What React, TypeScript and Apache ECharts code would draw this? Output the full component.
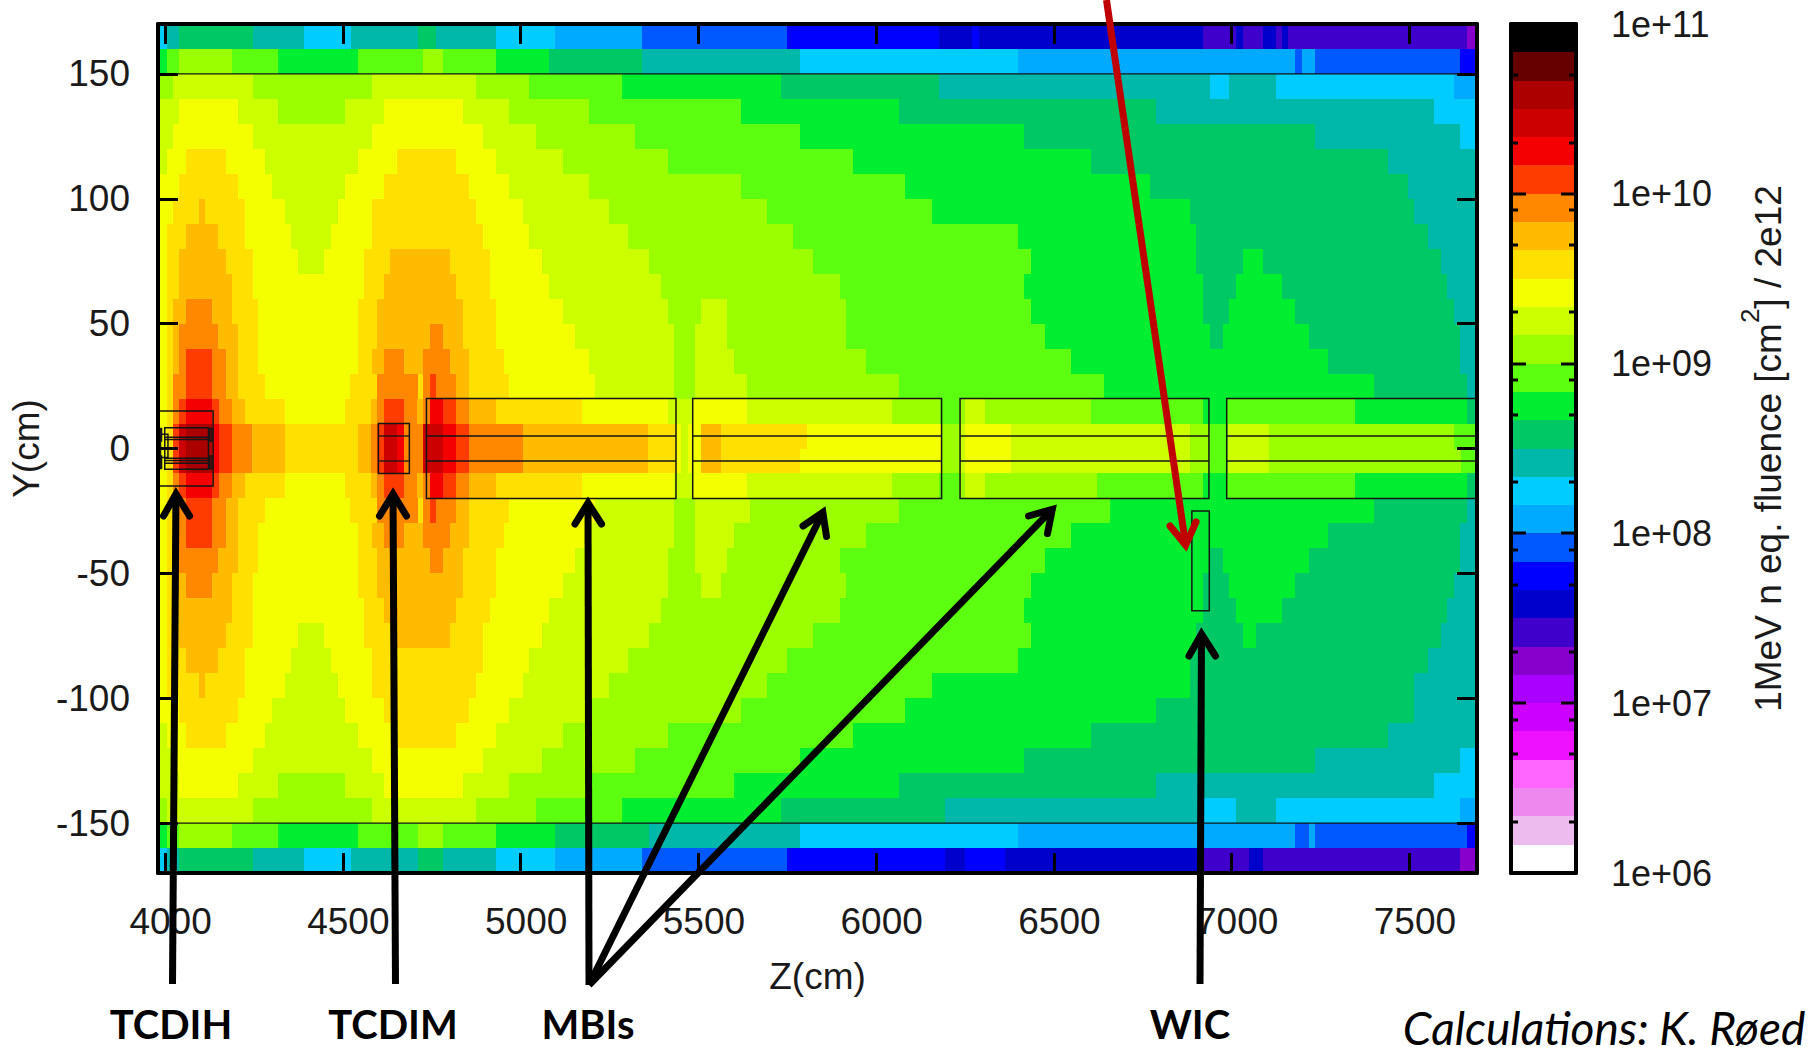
import React, { useEffect, useRef } from "react";
import * as echarts from "echarts";

const zTicks = [4000, 4500, 5000, 5500, 6000, 6500, 7000, 7500];
const yTicks = [-150, -100, -50, 0, 50, 100, 150];
const zRange = [3980, 7690];
const yRange = [-170, 170];

// fluence bands, from the lowest (white) to the highest (black)
const bandColors = [
  "#FFFFFF", "#EEBBEE", "#EE88EE", "#FF66FF", "#EE11FF", "#CC00FF",
  "#AA00FF", "#8800CC", "#4000CC", "#0000CC", "#0000FF", "#0058FF",
  "#00AAFF", "#00CCFF", "#00B8AA", "#00C864", "#00EE30", "#5CFF10",
  "#9CFF00", "#CCFF00", "#F4FF00", "#FFE000", "#FFBB00", "#FF8800",
  "#FF3C00", "#F50000", "#CC0000", "#AA0000", "#660000", "#000000",
];
const bandEdges = [
  1e6, 1.468e6, 2.154e6, 3.162e6, 4.642e6, 6.813e6,
  1e7, 1.468e7, 2.154e7, 3.162e7, 4.642e7, 6.813e7,
  1e8, 1.468e8, 2.154e8, 3.162e8, 4.642e8, 6.813e8,
  1e9, 1.468e9, 2.154e9, 3.162e9, 4.642e9, 6.813e9,
  1e10, 1.468e10, 2.154e10, 3.162e10, 4.642e10, 6.813e10, 1e11,
];
const barMinorTicks = [
  2e6, 5e6, 8e6, 2e7, 5e7, 8e7, 2e8, 5e8, 8e8, 2e9, 5e9, 8e9, 2e10, 5e10, 8e10,
];
const barMajorTicks = [1e7, 1e8, 1e9, 1e10];

// y edges of the scoring rows (cm)
const rowTops = [
  170, 160, 150, 140, 130, 120, 110, 100, 90, 80, 70, 60, 50, 40, 30, 20, 10,
  0, -10, -20, -30, -40, -50, -60, -70, -80, -90, -100, -110, -120, -130, -140, -150, -160,
];

// each row: band, z where the band ends (cm), band, z where it ends, ...
const rowRuns: number[][] = [
  [13,4004,14,4038,15,4246,14,4392,13,4522,14,4710,15,4763,14,4931,13,5097,12,5340,11,5748,10,6176,9,6269,10,6288,9,6919,8,7012,9,7031,8,7088,9,7125,8,7142,9,7158,8,7662,7,7690],
  [16,4004,17,4038,18,4188,17,4318,16,4543,17,4726,18,4782,17,4931,16,5081,15,5340,14,5786,13,6399,12,7179,11,7198,12,7234,11,7643,10,7690],
  [18,4021,19,4246,18,4581,19,4875,18,5023,17,5285,16,5732,15,6176,14,6938,13,6992,14,7125,13,7625,12,7690],
  [19,4038,20,4206,19,4318,18,4505,19,4617,20,4839,19,4968,18,5193,17,5619,16,6065,15,6787,14,7568,13,7690],
  [19,4021,20,4246,19,4581,20,4894,19,5044,18,5322,17,5786,16,6417,15,7235,14,7643,13,7690],
  [19,4004,20,4058,21,4172,20,4280,19,4543,20,4651,21,4819,20,4931,19,5119,18,5415,17,5935,16,6604,15,7440,14,7690],
  [20,4038,21,4206,20,4302,19,4505,20,4617,21,4856,20,4968,19,5193,18,5619,17,6081,16,6771,15,7495,14,7690],
  [20,4021,21,4096,22,4112,21,4225,20,4338,19,4486,20,4581,21,4875,20,5006,19,5248,18,5693,17,6158,16,6882,15,7514,14,7690],
  [20,4004,21,4058,22,4150,21,4225,20,4355,19,4468,20,4581,21,4894,20,5023,19,5302,18,5766,17,6399,16,6899,15,7552,14,7690],
  [20,4004,21,4038,22,4172,21,4246,20,4375,19,4448,20,4559,21,4633,22,4801,21,4915,20,5060,19,5360,18,5822,17,6436,16,6899,15,7031,16,7088,15,7588,14,7690],
  [20,4004,21,4038,22,4188,21,4246,20,4559,21,4617,22,4819,21,4915,20,5081,19,5394,18,5898,17,6417,16,6919,15,7012,16,7142,15,7607,14,7690],
  [20,4004,21,4021,22,4058,23,4133,22,4188,21,4262,20,4543,21,4597,22,4839,21,4931,20,5119,19,5415,18,5508,19,5581,18,5915,17,6436,16,6919,15,6992,16,7179,15,7625,14,7690],
  [20,4004,21,4021,22,4038,23,4150,22,4206,21,4262,20,4543,21,4597,22,4746,23,4782,22,4839,21,4931,20,5153,19,5431,18,5490,19,5581,18,5915,17,6475,16,6938,15,6975,16,7217,15,7643,14,7690],
  [20,4004,21,4021,22,4038,23,4058,24,4133,23,4172,22,4206,21,4262,20,4543,21,4581,22,4617,23,4672,22,4726,23,4801,22,4856,21,4952,20,5193,19,5431,18,5490,19,5600,18,5971,17,6548,16,7271,15,7643,14,7690],
  [20,4004,21,4021,23,4058,24,4133,23,4172,22,4206,21,4280,20,4521,21,4597,23,4710,21,4726,23,4746,24,4763,23,4819,22,4856,21,4968,20,5210,19,5431,18,5490,19,5637,18,6065,17,6641,16,7400,15,7662,14,7690],
  [20,4004,21,4021,23,4038,24,4059,25,4132,24,4151,23,4188,22,4226,21,4338,20,4505,21,4580,22,4597,23,4616,24,4672,23,4709,22,4726,23,4745,25,4781,24,4818,23,4856,22,4931,21,5174,20,5415,19,5486,20,5636,19,6045,18,6180,17,6236,18,6250,19,6306,18,6603,17,6920,16,6986,17,7347,16,7662,15,7690],
  [20,4004,21,4021,24,4038,26,4059,27,4132,25,4151,24,4188,23,4245,22,4338,21,4542,22,4580,23,4597,24,4616,26,4651,25,4672,23,4726,26,4781,25,4818,24,4856,23,5006,22,5359,21,5436,20,5452,19,5470,20,5507,22,5564,21,5805,20,6184,18,6236,19,6250,20,6380,19,6883,18,6937,17,6991,19,7105,18,7626,17,7690],
  [20,4004,21,4021,24,4038,26,4059,27,4132,25,4151,24,4188,23,4245,22,4338,21,4542,22,4580,23,4597,24,4616,26,4651,25,4672,23,4726,26,4781,25,4818,24,4856,23,5006,22,5359,21,5436,20,5452,19,5470,20,5507,22,5564,21,5786,20,6184,18,6236,19,6250,20,6380,19,6883,18,6937,17,6991,19,7105,18,7644,17,7690],
  [20,4004,21,4021,23,4038,24,4059,25,4132,24,4151,23,4188,22,4226,21,4338,20,4505,21,4580,22,4597,23,4616,24,4672,23,4709,22,4726,23,4745,25,4781,24,4818,23,4856,22,4931,21,5174,20,5432,19,5486,20,5636,19,6045,18,6178,17,6236,18,6250,19,6306,18,6621,17,6920,16,6986,17,7347,16,7662,15,7690],
  [20,4004,21,4021,23,4058,24,4133,23,4172,22,4206,21,4280,20,4521,21,4597,23,4710,21,4726,23,4746,24,4763,23,4819,22,4856,21,4968,20,5210,19,5431,18,5490,19,5646,18,6065,17,6658,16,7400,15,7662,14,7690],
  [20,4004,21,4021,22,4038,23,4058,24,4133,23,4172,22,4206,21,4262,20,4543,21,4581,22,4617,23,4672,22,4726,23,4801,22,4856,21,4952,20,5185,19,5431,18,5490,19,5600,18,5971,17,6548,16,7271,15,7643,14,7690],
  [20,4004,21,4021,22,4038,23,4150,22,4206,21,4262,20,4543,21,4597,22,4746,23,4782,22,4839,21,4931,20,5153,19,5415,18,5490,19,5581,18,5898,17,6475,16,6939,15,6975,16,7217,15,7643,14,7690],
  [20,4004,21,4021,22,4058,23,4133,22,4188,21,4246,20,4543,21,4597,22,4839,21,4931,20,5119,19,5415,18,5508,19,5564,18,5915,17,6436,16,6919,15,6992,16,7179,15,7625,14,7690],
  [20,4004,21,4038,22,4188,21,4246,20,4559,21,4617,22,4819,21,4915,20,5081,19,5394,18,5898,17,6417,16,6919,15,7012,16,7142,15,7607,14,7690],
  [20,4004,21,4038,22,4172,21,4246,20,4375,19,4448,20,4559,21,4653,22,4801,21,4894,20,5060,19,5360,18,5822,17,6436,16,6899,15,7031,16,7067,15,7588,14,7690],
  [20,4004,21,4058,22,4150,21,4225,20,4355,19,4468,20,4581,21,4894,20,5023,19,5302,18,5748,17,6399,16,6882,15,7552,14,7690],
  [20,4004,21,4096,22,4112,21,4225,20,4338,19,4486,20,4581,21,4875,20,5006,19,5248,18,5693,17,6158,16,6882,15,7514,14,7690],
  [20,4038,21,4206,20,4302,19,4505,20,4617,21,4856,20,4968,19,5201,18,5619,17,6081,16,6787,15,7514,14,7690],
  [19,4004,20,4058,21,4172,20,4280,19,4543,20,4651,21,4819,20,4931,19,5119,18,5415,17,5935,16,6604,15,7440,14,7690],
  [19,4021,20,4246,19,4581,20,4894,19,5060,18,5322,17,5786,16,6417,15,7235,14,7643,13,7690],
  [19,4038,20,4206,19,4318,18,4505,19,4617,20,4839,19,4968,18,5201,17,5600,16,6065,15,6787,14,7568,13,7690],
  [18,4004,19,4246,18,4581,19,4875,18,5044,17,5285,16,5732,15,6195,14,6919,13,7012,14,7125,13,7643,12,7690],
  [16,4004,17,4038,18,4188,17,4318,16,4543,17,4710,18,4782,17,4931,16,5097,15,5360,14,5786,13,6399,12,7179,11,7217,12,7234,11,7662,10,7690],
  [13,4004,14,4038,15,4246,14,4392,13,4522,14,4710,15,4782,14,4931,13,5097,12,5340,11,5748,10,6195,9,6250,10,6362,9,6919,8,7049,9,7088,8,7643,7,7690],
];

// geometry outlines, [zStart, zEnd, yTop, yBottom] in cm
const elementBoxes = [
  [3980, 4135, 15, -15],
  [3999, 4122, 8.3, -8.3],
  [3987, 4008, 5.7, -3.6],
  [3987, 3990, 8, 3],
  [3987, 3990, -3, -8],
  [4126, 4132, 8, 3],
  [4126, 4132, -3, -8],
  [4600, 4687, 10, -10],
  [4735, 5437, 20, -20],
  [5484, 6184, 20, -20],
  [6236, 6936, 20, -20],
  [6986, 7690, 20, -20],
  [6888, 6937, -25, -65],
];
// horizontal outlines, [zStart, zEnd, y]
const elementLines = [
  [3980, 7690, 150],
  [3980, 7690, -150],
  [3999, 4122, 4.5],
  [3999, 4122, 3.6],
  [3999, 4122, -3.9],
  [3999, 4122, -4.8],
  [3999, 4122, -5.9],
  [4600, 4687, 5],
  [4600, 4687, -5],
  [4735, 5437, 5],
  [4735, 5437, -5],
  [5484, 6184, 5],
  [5484, 6184, -5],
  [6236, 6936, 5],
  [6236, 6936, -5],
  [6986, 7690, 5],
  [6986, 7690, -5],
];

// callouts drawn over the figure, in page pixels
const arrows = [
  { from: [172.5, 984], tip: [176, 488], a: [163.5, 516], b: [189.5, 516], color: "#000000" },
  { from: [395.5, 984], tip: [393, 488], a: [379.5, 516], b: [406.5, 516], color: "#000000" },
  { from: [589, 985], tip: [588, 497], a: [575, 524], b: [601.5, 524], color: "#000000" },
  { from: [589, 985], tip: [825.5, 507], a: [803, 526], b: [826.5, 536.5], color: "#000000" },
  { from: [589, 985], tip: [1056.5, 505], a: [1028.5, 516], b: [1047.5, 533.5], color: "#000000" },
  { from: [1200, 984], tip: [1201.5, 628], a: [1189, 656], b: [1215.5, 656], color: "#000000" },
  { from: [1106.5, 0], tip: [1186.5, 551], a: [1170, 526], b: [1196, 522], color: "#C00000" },
];
const callouts = [
  { text: "TCDIH", x: 171, y: 1024 },
  { text: "TCDIM", x: 393, y: 1024 },
  { text: "MBIs", x: 588, y: 1024 },
  { text: "WIC", x: 1190, y: 1024 },
];
const creditText = "Calculations: K. Røed";

const ARIAL = "Liberation Sans";
const CALLOUT_FONT = "Lato";
const ARROW_WIDTH = 7;

function App() {
  const ref = useRef<HTMLDivElement>(null);

  useEffect(() => {
    const chart = echarts.init(ref.current!, null, { renderer: "svg" });

    const cells: number[][] = [];
    rowRuns.forEach((runs, r) => {
      let start = zRange[0];
      for (let i = 0; i < runs.length; i += 2) {
        cells.push([start, runs[i + 1], rowTops[r], rowTops[r] - 10, runs[i]]);
        start = runs[i + 1];
      }
    });

    const barCells = bandColors.map((_, i) => [0, 1, bandEdges[i + 1], bandEdges[i], i]);
    const barTicks = [
      ...barMinorTicks.map((v) => [v, 7]),
      ...barMajorTicks.map((v) => [v, 15]),
    ];

    const renderBand = (_p: any, api: any) => {
      const a = api.coord([api.value(0), api.value(2)]);
      const b = api.coord([api.value(1), api.value(3)]);
      const x0 = Math.round(a[0]);
      const y0 = Math.round(a[1]);
      return {
        type: "rect",
        shape: { x: x0, y: y0, width: Math.round(b[0]) - x0, height: Math.round(b[1]) - y0 },
        style: { fill: bandColors[api.value(4)] },
      };
    };

    const mainAxisCommon = {
      axisLine: { show: true, onZero: false, lineStyle: { color: "#000", width: 4 } },
      axisTick: { show: true, inside: true, length: 20, lineStyle: { color: "#000", width: 3 } },
      splitLine: { show: false },
      z: 10,
    };
    const barAxisCommon = {
      axisLine: { show: true, onZero: false, lineStyle: { color: "#000", width: 4 } },
      axisTick: { show: false },
      splitLine: { show: false },
      z: 10,
    };

    // the miter of a head reaches past its apex, so the apex sits behind the drawn tip
    const apexOf = (ar: (typeof arrows)[number]) => {
      const dx = ar.from[0] - ar.tip[0];
      const dy = ar.from[1] - ar.tip[1];
      const len = Math.hypot(dx, dy);
      return [ar.tip[0] + (dx / len) * 6, ar.tip[1] + (dy / len) * 6];
    };

    chart.setOption({
      animation: false,
      backgroundColor: "#ffffff",
      textStyle: { fontFamily: ARIAL },
      grid: [
        { left: 158, top: 24, width: 1319, height: 849 },
        { left: 1511, top: 24, width: 65, height: 849 },
      ],
      xAxis: [
        {
          ...mainAxisCommon,
          type: "value",
          gridIndex: 0,
          position: "bottom",
          min: zRange[0],
          max: zRange[1],
          axisTick: { ...mainAxisCommon.axisTick, customValues: zTicks },
          axisLabel: {
            customValues: zTicks,
            margin: 30,
            fontSize: 37,
            color: "#1a1a1a",
            fontFamily: ARIAL,
            hideOverlap: false,
            padding: [0, 0, 0, 11],
            formatter: (v: number) => String(v),
          },
          name: "Z(cm)",
          nameLocation: "middle",
          nameGap: 85,
          nameTextStyle: { fontSize: 37, color: "#1a1a1a", fontFamily: ARIAL },
        },
        {
          ...mainAxisCommon,
          type: "value",
          gridIndex: 0,
          position: "top",
          min: zRange[0],
          max: zRange[1],
          axisTick: { ...mainAxisCommon.axisTick, customValues: zTicks },
          axisLabel: { show: false },
        },
        { ...barAxisCommon, type: "value", gridIndex: 1, position: "bottom", min: 0, max: 1, axisLabel: { show: false } },
        { ...barAxisCommon, type: "value", gridIndex: 1, position: "top", min: 0, max: 1, axisLabel: { show: false } },
      ],
      yAxis: [
        {
          ...mainAxisCommon,
          type: "value",
          gridIndex: 0,
          position: "left",
          min: yRange[0],
          max: yRange[1],
          axisTick: { ...mainAxisCommon.axisTick, customValues: yTicks },
          axisLabel: {
            customValues: yTicks,
            margin: 28,
            fontSize: 37,
            color: "#1a1a1a",
            fontFamily: ARIAL,
            formatter: (v: number) => String(v),
          },
          name: "Y(cm)",
          nameLocation: "middle",
          nameRotate: 90,
          nameGap: 106,
          nameTextStyle: { fontSize: 37, color: "#1a1a1a", fontFamily: ARIAL },
        },
        {
          ...mainAxisCommon,
          type: "value",
          gridIndex: 0,
          position: "right",
          min: yRange[0],
          max: yRange[1],
          axisTick: { ...mainAxisCommon.axisTick, customValues: yTicks },
          axisLabel: { show: false },
        },
        {
          ...barAxisCommon,
          type: "log",
          logBase: 10,
          gridIndex: 1,
          position: "left",
          min: 1e6,
          max: 1e11,
          axisLabel: { show: false },
        },
        {
          ...barAxisCommon,
          type: "log",
          logBase: 10,
          gridIndex: 1,
          position: "right",
          min: 1e6,
          max: 1e11,
          splitNumber: 5,
          axisLabel: {
            margin: 35,
            fontSize: 36,
            color: "#1a1a1a",
            fontFamily: ARIAL,
            formatter: (v: number) => {
              const e = Math.round(Math.log10(v));
              return "1e+" + String(e).padStart(2, "0");
            },
          },
          name: "{a|1MeV n eq. fluence [cm}{s|2}{a|] / 2e12}",
          nameLocation: "middle",
          nameRotate: 90,
          nameGap: 161,
          nameTextStyle: {
            color: "#1a1a1a",
            rich: {
              a: { fontSize: 37, color: "#1a1a1a", fontFamily: ARIAL, lineHeight: 50, verticalAlign: "bottom" },
              s: { fontSize: 26, color: "#1a1a1a", fontFamily: ARIAL, lineHeight: 50, verticalAlign: "top" },
            },
          },
        },
      ],
      series: [
        {
          type: "custom",
          name: "fluence",
          xAxisIndex: 0,
          yAxisIndex: 0,
          coordinateSystem: "cartesian2d",
          silent: true,
          progressive: 0,
          clip: true,
          z: 2,
          encode: { x: [0, 1], y: [2, 3] },
          data: cells,
          renderItem: renderBand,
        },
        {
          type: "custom",
          name: "outlines",
          xAxisIndex: 0,
          yAxisIndex: 0,
          coordinateSystem: "cartesian2d",
          silent: true,
          clip: true,
          z: 4,
          encode: { x: [0, 1], y: [2, 3] },
          data: elementBoxes,
          renderItem: (_p: any, api: any) => {
            const a = api.coord([api.value(0), api.value(2)]);
            const b = api.coord([api.value(1), api.value(3)]);
            return {
              type: "rect",
              shape: { x: a[0], y: a[1], width: b[0] - a[0], height: b[1] - a[1] },
              style: { fill: "none", stroke: "#151515", lineWidth: 1.5 },
            };
          },
        },
        {
          type: "custom",
          name: "outline rules",
          xAxisIndex: 0,
          yAxisIndex: 0,
          coordinateSystem: "cartesian2d",
          silent: true,
          clip: true,
          z: 4,
          encode: { x: [0, 1], y: 2 },
          data: elementLines,
          renderItem: (_p: any, api: any) => {
            const a = api.coord([api.value(0), api.value(2)]);
            const b = api.coord([api.value(1), api.value(2)]);
            return {
              type: "line",
              shape: { x1: a[0], y1: a[1], x2: b[0], y2: b[1] },
              style: { stroke: "#151515", lineWidth: 1.3 },
            };
          },
        },
        {
          type: "custom",
          name: "scale",
          xAxisIndex: 2,
          yAxisIndex: 3,
          coordinateSystem: "cartesian2d",
          silent: true,
          progressive: 0,
          z: 2,
          encode: { x: [0, 1], y: [2, 3] },
          data: barCells,
          renderItem: renderBand,
        },
        {
          type: "custom",
          name: "scale ticks",
          xAxisIndex: 2,
          yAxisIndex: 3,
          coordinateSystem: "cartesian2d",
          silent: true,
          z: 4,
          encode: { y: 0 },
          data: barTicks,
          renderItem: (_p: any, api: any) => {
            const l = api.coord([0, api.value(0)]);
            const r = api.coord([1, api.value(0)]);
            const len = api.value(1);
            const y = Math.round(l[1]);
            return {
              type: "group",
              children: [
                { type: "rect", shape: { x: l[0], y: y - 1.5, width: len, height: 3 }, style: { fill: "#000" } },
                { type: "rect", shape: { x: r[0] - len, y: y - 1.5, width: len, height: 3 }, style: { fill: "#000" } },
              ],
            };
          },
        },
      ],
      graphic: {
        elements: [
          ...arrows.flatMap((ar) => {
            const apex = apexOf(ar);
            return [
              {
                type: "line",
                z: 100,
                silent: true,
                shape: { x1: ar.from[0], y1: ar.from[1], x2: apex[0], y2: apex[1] },
                style: { stroke: ar.color, lineWidth: ARROW_WIDTH },
              },
              {
                type: "polyline",
                z: 100,
                silent: true,
                shape: { points: [ar.a, apex, ar.b] },
                style: { stroke: ar.color, fill: "none", lineWidth: ARROW_WIDTH, lineCap: "round", lineJoin: "miter" },
              },
            ];
          }),
          ...callouts.map((c) => ({
            type: "text",
            z: 100,
            silent: true,
            x: c.x,
            y: c.y,
            style: {
              text: c.text,
              fontFamily: CALLOUT_FONT,
              fontWeight: "bold",
              fontSize: 40,
              fill: "#000",
              align: "center",
              verticalAlign: "middle",
            },
          })),
          {
            type: "text",
            z: 100,
            silent: true,
            x: 1604,
            y: 1027,
            style: {
              text: creditText,
              fontFamily: CALLOUT_FONT,
              fontStyle: "italic",
              fontSize: 46,
              fill: "#000",
              align: "center",
              verticalAlign: "middle",
            },
          },
        ],
      },
    });

    return () => chart.dispose();
  }, []);

  return (
    <div
      ref={ref}
      style={{ position: "absolute", left: 0, top: 0, width: 1814, height: 1047, overflow: "hidden" }}
    />
  );
}

export default App;
